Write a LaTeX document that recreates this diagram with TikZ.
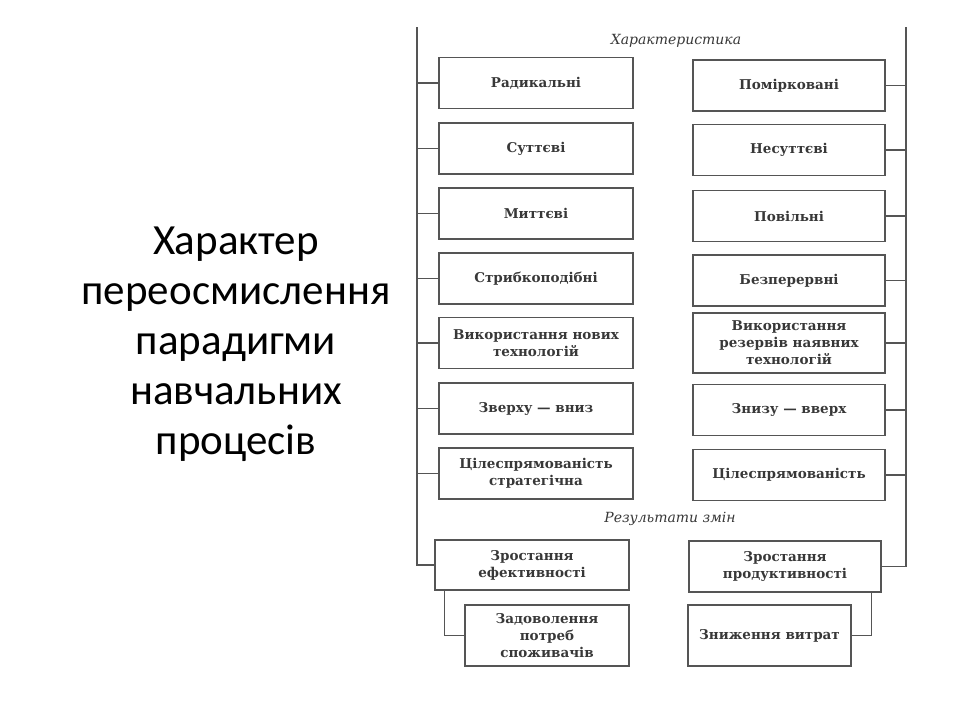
\documentclass[tikz,border=0pt]{standalone}
\usepackage{fontspec}
\setmainfont{Carlito}
\newfontfamily\diagfont{DejaVu Serif}
\usetikzlibrary{calc}
\definecolor{scanink}{HTML}{383838}
\definecolor{scanline}{HTML}{555555}
\tikzset{
  diag/.style={font=\diagfont\bfseries\fontsize{13.5}{17}\selectfont, text=scanink},
  cbox/.style={diag, draw=scanline, line width=1.3pt, rectangle, align=center, inner sep=2pt},
  lbox/.style={cbox, minimum width=194pt, minimum height=51pt},
  rbox/.style={cbox, minimum width=192pt, minimum height=51pt},
  conn/.style={draw=scanline, line width=1.3pt},
  head/.style={font=\diagfont\itshape\fontsize{14}{16}\selectfont, text=scanink},
}
\begin{document}
\begin{tikzpicture}[x=1pt,y=-1pt]
\useasboundingbox (0,0) rectangle (960,720);
% title
\node[font=\fontsize{43}{50}\selectfont, align=center, text=black] (title) at (236,344)
  {Характер\\переосмислення\\парадигми\\навчальних\\процесів};
% main lines
\coordinate (Ltop) at (417,27);
\coordinate (Rtop) at (906,27);
\node[head] (hchar) at (676,41) {Характеристика};
% left column
\node[lbox] (l1) at (536,83) {Радикальні};
\node[lbox] (l2) at (536,148.5) {Суттєві};
\node[lbox] (l3) at (536,213.5) {Миттєві};
\node[lbox] (l4) at (536,278.5) {Стрибкоподібні};
\node[lbox] (l5) at (536,343) {Використання нових\\технологій};
\node[lbox] (l6) at (536,408.5) {Зверху — вниз};
\node[lbox] (l7) at (536,473.5) {Цілеспрямованість\\стратегічна};
% right column
\node[rbox] (r1) at (789,85.5) {Помірковані};
\node[rbox] (r2) at (789,150) {Несуттєві};
\node[rbox] (r3) at (789,216) {Повільні};
\node[rbox] (r4) at (789,280.5) {Безперервні};
\node[rbox, minimum height=60pt] (r5) at (789,343) {Використання\\резервів наявних\\технологій};
\node[rbox] (r6) at (789,410) {Знизу — вверх};
\node[rbox] (r7) at (789,475) {Цілеспрямованість};
\node[head] (hres) at (670,519) {Результати змін};
% results
\node[cbox, minimum width=194pt, minimum height=50pt] (b1) at (532,565) {Зростання\\ефективності};
\node[cbox, minimum width=164pt, minimum height=61pt] (b2) at (547,635.5) {Задоволення\\потреб\\споживачів};
\node[cbox, minimum width=192pt, minimum height=51pt] (b3) at (785,566.5) {Зростання\\продуктивності};
\node[cbox, minimum width=163pt, minimum height=61pt] (b4) at (769.5,635.5) {Зниження витрат};
% connectors
\draw[conn] (Ltop) |- (b1.west);
\draw[conn] (Rtop) |- (b3.east);
\foreach \n in {l1,l2,l3,l4,l5,l6,l7}{\draw[conn] (\n.west) -- (\n.west -| Ltop);}
\foreach \n in {r1,r2,r3,r4,r5,r6,r7}{\draw[conn] (\n.east) -- (\n.east -| Rtop);}
\coordinate (b1drop) at ($(b1.south west)+(10,0)$);
\coordinate (b3drop) at ($(b3.south east)+(-10,0)$);
\draw[conn] (b1drop) |- (b2.west);
\draw[conn] (b3drop) |- (b4.east);
\end{tikzpicture}
\end{document}
